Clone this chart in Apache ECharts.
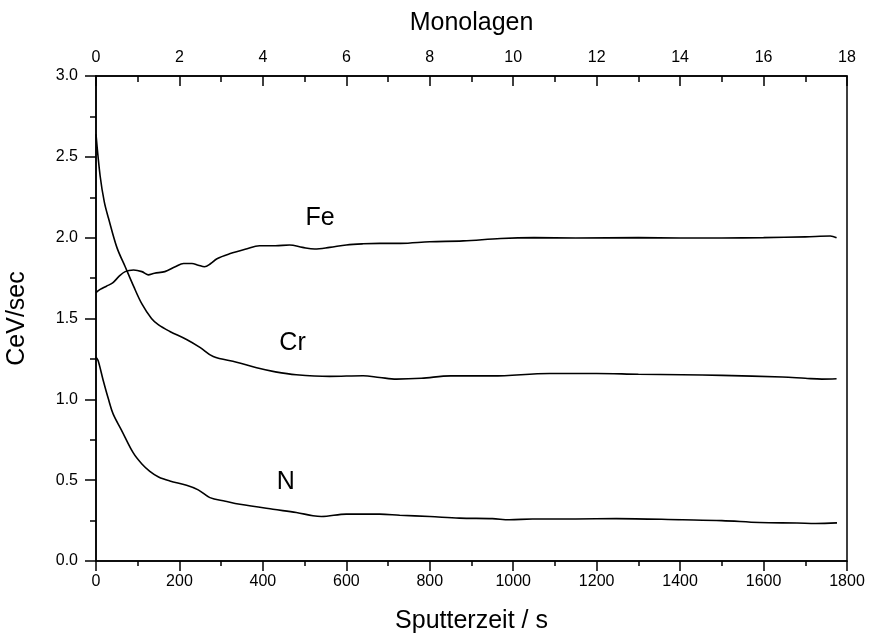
<!DOCTYPE html>
<html>
<head>
<meta charset="utf-8">
<script src="https://cdn.jsdelivr.net/npm/echarts@6/dist/echarts.min.js"></script>
<style>
html,body{margin:0;padding:0;background:#fff;}
#chart{width:871px;height:637px;}
</style>
</head>
<body>
<div id="chart"></div>
<script>
// Sputter time (s) and signal (CeV/sec) for each element
const feTime = [0, 10, 25, 40, 55, 70, 90, 110, 125, 140, 165, 190, 210, 230, 245, 260, 275, 290, 320, 360, 392, 430, 464, 495, 524, 560, 600, 640, 680, 730, 800, 880, 970, 1050, 1150, 1300, 1400, 1500, 1600, 1700, 1760, 1775];
const feValues = [1.66, 1.68, 1.70, 1.72, 1.76, 1.79, 1.80, 1.79, 1.77, 1.78, 1.79, 1.82, 1.84, 1.84, 1.83, 1.82, 1.84, 1.87, 1.90, 1.93, 1.95, 1.95, 1.955, 1.94, 1.93, 1.94, 1.955, 1.962, 1.965, 1.965, 1.975, 1.98, 1.995, 2.0, 1.998, 2.0, 1.998, 1.998, 2.0, 2.005, 2.01, 2.0];

const crTime = [0, 10, 20, 30, 50, 70, 90, 110, 133, 150, 177, 217, 250, 281, 337, 385, 430, 480, 560, 640, 680, 720, 780, 850, 950, 1087, 1200, 1300, 1405, 1500, 1645, 1700, 1740, 1775];
const crValues = [2.64, 2.38, 2.22, 2.12, 1.94, 1.82, 1.70, 1.59, 1.50, 1.46, 1.42, 1.37, 1.32, 1.265, 1.23, 1.195, 1.17, 1.152, 1.142, 1.146, 1.135, 1.125, 1.13, 1.145, 1.145, 1.16, 1.16, 1.155, 1.152, 1.148, 1.138, 1.13, 1.125, 1.127];

const nTime = [0, 5, 17, 30, 41, 61, 89, 110, 129, 150, 177, 217, 245, 273, 310, 345, 424, 480, 520, 540, 600, 680, 728, 800, 871, 950, 991, 1046, 1150, 1247, 1406, 1500, 1590, 1680, 1725, 1776];
const nValues = [1.26, 1.24, 1.12, 1.00, 0.91, 0.81, 0.67, 0.60, 0.555, 0.52, 0.495, 0.468, 0.44, 0.392, 0.37, 0.351, 0.32, 0.30, 0.28, 0.275, 0.29, 0.29, 0.283, 0.275, 0.265, 0.262, 0.255, 0.26, 0.26, 0.262, 0.255, 0.25, 0.238, 0.235, 0.232, 0.236];

// Curve annotations (text, time, value)
const labelNames = ['Fe', 'Cr', 'N'];
const labelTime = [537, 471, 455];
const labelValue = [2.12, 1.35, 0.49];

const FONT = '"Liberation Sans", Arial, sans-serif';
const pair = (xs, ys) => xs.map((x, i) => [x, ys[i]]);

const chart = echarts.init(document.getElementById('chart'));
const lineStyle = {color: '#000', width: 1.6};
const mkLine = (name, xs, ys) => ({
  name, type: 'line', xAxisIndex: 0, yAxisIndex: 0,
  data: pair(xs, ys), showSymbol: false, smooth: 0.35,
  lineStyle, itemStyle: {color: '#000'}, silent: true, z: 3
});

chart.setOption({
  animation: false,
  backgroundColor: '#fff',
  textStyle: {fontFamily: FONT, color: '#000'},
  grid: {left: 96, right: 24, top: 76, bottom: 76, containLabel: false, outerBoundsMode: 'none', show: true, borderColor: '#000', borderWidth: 1.5, backgroundColor: 'transparent'},
  xAxis: [{
    type: 'value', position: 'bottom', min: 0, max: 1800, interval: 200,
    name: 'Sputterzeit / s', nameLocation: 'middle', nameGap: 48,
    nameTextStyle: {fontSize: 25, color: '#000', fontFamily: FONT},
    axisLine: {show: true, onZero: false, lineStyle: {color: '#000', width: 1.5}},
    axisTick: {show: true, inside: false, length: 10, lineStyle: {color: '#000', width: 1.5}},
    minorTick: {show: true, splitNumber: 2, length: 5, lineStyle: {color: '#000', width: 1.5}},
    axisLabel: {fontSize: 16, color: '#000', margin: 13, fontFamily: FONT, formatter: v => String(v)},
    splitLine: {show: false}
  }, {
    type: 'value', position: 'top', min: 0, max: 18, interval: 2,
    name: 'Monolagen', nameLocation: 'middle', nameGap: 40,
    nameTextStyle: {fontSize: 25, color: '#000', fontFamily: FONT},
    axisLine: {show: true, onZero: false, lineStyle: {color: '#000', width: 1.5}},
    axisTick: {show: true, inside: true, length: 10, lineStyle: {color: '#000', width: 1.5}},
    minorTick: {show: true, splitNumber: 2, length: 6, lineStyle: {color: '#000', width: 1.5}},
    axisLabel: {fontSize: 16, color: '#000', margin: 10, fontFamily: FONT, formatter: v => String(v)},
    splitLine: {show: false}
  }],
  yAxis: [{
    type: 'value', min: 0, max: 3, interval: 0.5,
    name: 'CeV/sec', nameLocation: 'middle', nameGap: 66,
    nameTextStyle: {fontSize: 25, color: '#000', fontFamily: FONT},
    axisLine: {show: true, onZero: false, lineStyle: {color: '#000', width: 1.5}},
    axisTick: {show: true, inside: false, length: 11, lineStyle: {color: '#000', width: 1.5}},
    minorTick: {show: true, splitNumber: 2, length: 6, lineStyle: {color: '#000', width: 1.5}},
    axisLabel: {fontSize: 16, color: '#000', margin: 18, fontFamily: FONT, formatter: v => v.toFixed(1)},
    splitLine: {show: false}
  }],
  series: [
    mkLine('Fe', feTime, feValues),
    mkLine('Cr', crTime, crValues),
    mkLine('N', nTime, nValues),
    {
      type: 'scatter', xAxisIndex: 0, yAxisIndex: 0, symbolSize: 1, silent: true,
      itemStyle: {color: 'rgba(0,0,0,0)', opacity: 1},
      data: labelNames.map((n, i) => ({name: n, value: [labelTime[i], labelValue[i]]})),
      label: {show: true, position: 'inside', formatter: p => p.name, fontSize: 25, color: '#000', opacity: 1, textBorderWidth: 0, fontFamily: FONT}
    }
  ]
});
</script>
</body>
</html>
